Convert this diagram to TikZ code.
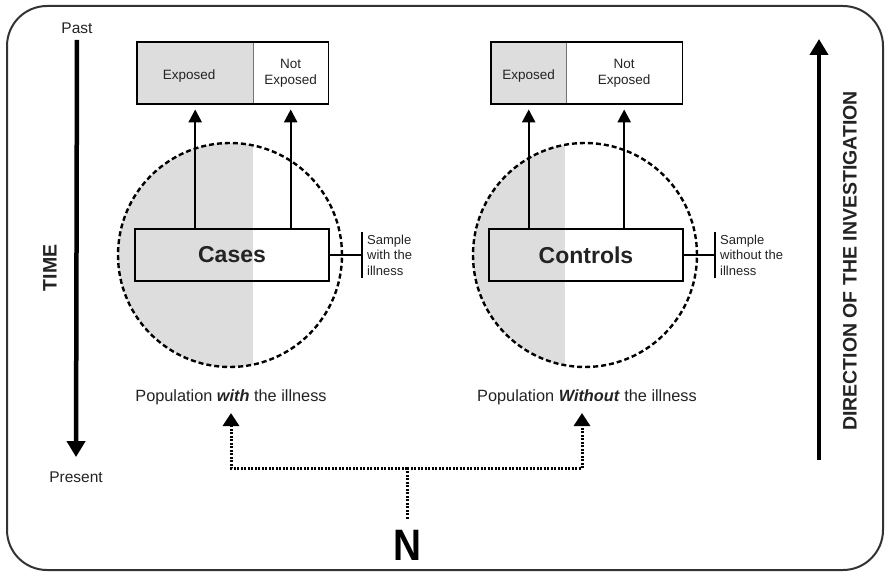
\documentclass[tikz,border=0pt]{standalone}
\usepackage{graphicx}
\usepackage{fontspec}
\setmainfont{Liberation Sans}
\usetikzlibrary{arrows.meta,calc}
\definecolor{popgray}{RGB}{221,221,221}
\definecolor{ink}{RGB}{35,35,35}
\begin{document}
\begin{tikzpicture}[x=1pt,y=-1pt,
  frame/.style={line width=2pt, draw=black!80, rounded corners=40pt},
  half/.style={inner sep=0pt, minimum height=62pt, anchor=north west, align=center, text=ink, font=\fontsize{13.5}{16}\selectfont},
  outline/.style={line width=1.8pt},
  divider/.style={line width=1pt, draw=black!55},
  samplebox/.style={draw, line width=1.8pt, minimum width=194pt, minimum height=52pt, inner sep=0pt, text=ink, font=\bfseries\fontsize{23}{26}\selectfont},
  popcirc/.style={circle, draw, dash pattern=on 5pt off 3pt, line width=2.4pt, minimum size=224pt, inner sep=0pt},
  uparr/.style={line width=2.4pt, -{Triangle[width=13pt,length=13pt]}, shorten >=5pt},
  bigarr/.style={line width=4.5pt, -{Triangle[width=18pt,length=16pt]}},
  dotline/.style={line width=3pt, dash pattern=on 2pt off 1.5pt},
  dotarr/.style={dotline, -{Triangle[width=16pt,length=13pt]}},
  note/.style={align=left, anchor=west, inner sep=0pt, text=ink, font=\fontsize{13}{15.5}\selectfont},
  poplabel/.style={text=ink, font=\fontsize{16.3}{19}\selectfont},
  axislabel/.style={text=ink, font=\bfseries\fontsize{19.5}{22}\selectfont},
  timelabel/.style={text=ink, font=\fontsize{15.5}{18}\selectfont}
]
\useasboundingbox (0,0) rectangle (887,572);
\draw[frame] (7,6) rectangle (883,570);

% ---- population shading ----
\begin{scope}
  \clip (230,255) circle (112pt);
  \fill[popgray] (100,130) rectangle (253,380);
\end{scope}
\begin{scope}
  \clip (585,255) circle (112pt);
  \fill[popgray] (460,130) rectangle (565,380);
\end{scope}

% ---- population circles ----
\node[popcirc] (circL) at (230,255) {};
\node[popcirc] (circR) at (585,255) {};

% ---- samples ----
\node[samplebox] (cases) at (232,255) {Cases};
\node[samplebox] (controls) at (586,255) {Controls};

% ---- exposure boxes (left) ----
\node[half, fill=popgray, minimum width=116pt] (cEx) at (137,42) {\mbox{}\\Exposed\hspace*{12pt}};
\node[half, minimum width=75pt] (cNx) at (253,42) {Not\\Exposed};
\draw[divider] (cEx.north east) -- (cEx.south east);
\draw[outline] (cEx.north west) rectangle (cNx.south east);

% ---- exposure boxes (right) ----
\node[half, fill=popgray, minimum width=75pt] (kEx) at (491,42) {\mbox{}\\Exposed};
\node[half, minimum width=116pt] (kNx) at (566,42) {Not\\Exposed};
\draw[divider] (kEx.north east) -- (kEx.south east);
\draw[outline] (kEx.north west) rectangle (kNx.south east);

% ---- arrows up to exposure ----
\draw[uparr] (cEx.south |- cases.north) -- (cEx.south);
\draw[uparr] (cNx.south |- cases.north) -- (cNx.south);
\draw[uparr] (kEx.south |- controls.north) -- (kEx.south);
\draw[uparr] (kNx.south |- controls.north) -- (kNx.south);

% ---- sample brackets ----
\coordinate (cbr) at (362,255);
\draw[line width=1.8pt] (cases.east) -- (cbr);
\draw[line width=1.8pt] ($(cbr)+(0,-23)$) -- ($(cbr)+(0,23)$);
\node[note] (cnote) at (367,255) {Sample\\with the\\illness};
\coordinate (kbr) at (715,255);
\draw[line width=1.8pt] (controls.east) -- (kbr);
\draw[line width=1.8pt] ($(kbr)+(0,-23)$) -- ($(kbr)+(0,23)$);
\node[note] (knote) at (720,255) {Sample\\without the\\illness};

% ---- population labels ----
\node[poplabel] (popL) at (231,397) {Population \textbf{\textit{with}} the illness};
\node[poplabel] (popR) at (587,397) {Population \textbf{\textit{Without}} the illness};

% ---- N and dotted connectors ----
\node[text=black, font=\bfseries\fontsize{44}{44}\selectfont, inner sep=0pt] (N) at (407,545) {\scalebox{0.88}[1]{N}};
\coordinate (j) at (407,468);
\draw[dotline, shorten <=11pt] (N.north) -- (j);
\draw[dotarr, shorten >=8pt] (j) -| (231,405);
\draw[dotarr, shorten >=8pt] (j) -| (582,405);

% ---- time axis ----
\node[timelabel] (past) at (77,28) {Past};
\node[timelabel] (present) at (76,477) {Present};
\draw[bigarr, shorten <=3pt, shorten >=11pt] (past.south) -- (present.north);
\node[axislabel, rotate=90] (time) at (50,268) {TIME};

% ---- direction axis ----
\coordinate (dirBot) at (819,460);
\coordinate (dirTop) at (819,39);
\draw[bigarr] (dirBot) -- (dirTop);
\node[axislabel, rotate=90] (dir) at (850,261) {DIRECTION OF THE INVESTIGATION};
\end{tikzpicture}
\end{document}
